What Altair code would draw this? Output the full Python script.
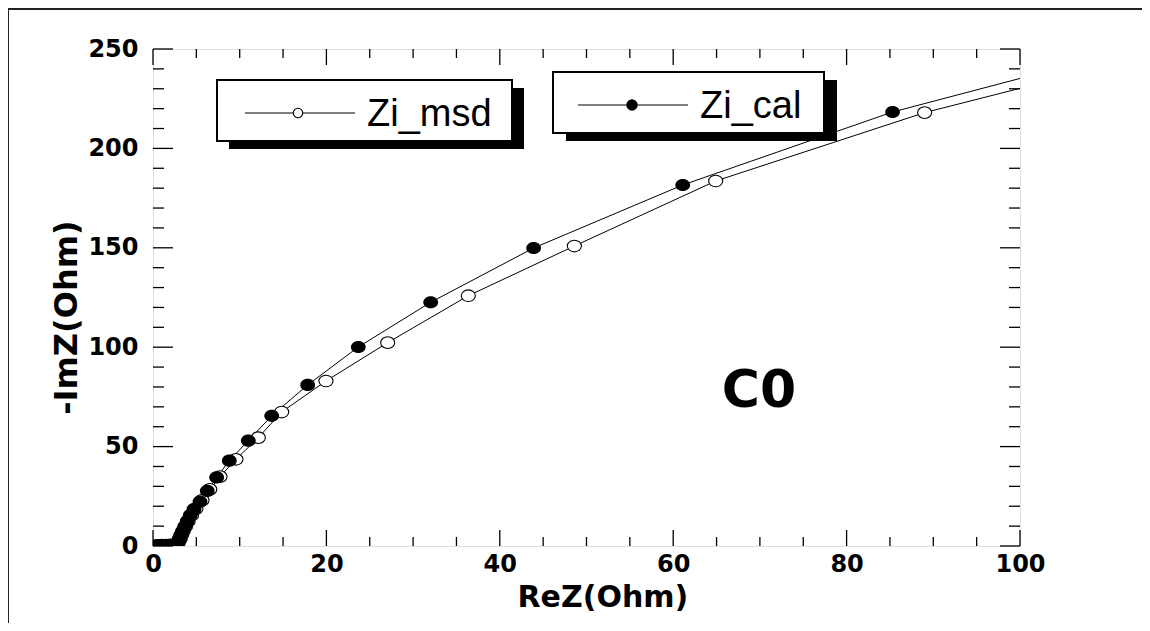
import altair as alt
import pandas as pd

# ---- data ----
cal_re = [0.25, 0.5, 0.9, 1.4, 1.9, 2.4, 2.7, 2.8, 2.9, 3.05, 3.2, 3.4, 3.65, 3.95, 4.3, 4.73,
          5.42, 6.26, 7.34, 8.8, 10.99, 13.69, 17.84, 23.68, 32.03, 43.9, 61.1, 85.3, 119.4]
cal_im = [0.1, 0.3, 0.4, 0.5, 0.55, 0.6, 0.9, 1.5, 2.5, 3.8, 5.5, 7.5, 9.8, 12.5, 15.5, 18.5,
          22.3, 27.7, 34.5, 42.9, 53.0, 65.5, 81.0, 100.1, 122.6, 149.9, 181.6, 218.3, 257.5]
msd_re = [0.3, 0.6, 1.0, 1.5, 2.0, 2.5, 2.8, 2.9, 3.0, 3.15, 3.3, 3.5, 3.75, 4.05, 4.45, 4.95,
          5.65, 6.55, 7.73, 9.57, 12.15, 14.84, 19.95, 27.07, 36.37, 48.6, 64.9, 89.0, 122.0]
msd_im = [0.1, 0.3, 0.4, 0.5, 0.5, 0.6, 0.9, 1.5, 2.5, 3.8, 5.5, 7.5, 9.8, 12.5, 15.5, 18.8,
          23.0, 28.5, 34.9, 43.6, 54.5, 67.4, 83.0, 102.3, 125.9, 150.9, 183.6, 218.0, 254.6]

x_major = [0, 20, 40, 60, 80, 100]
x_minor = [5, 10, 15, 25, 30, 35, 45, 50, 55, 65, 70, 75, 85, 90, 95]
y_major = [0, 50, 100, 150, 200, 250]
y_minor = [10, 20, 30, 40, 60, 70, 80, 90, 110, 120, 130, 140, 160, 170, 180, 190,
           210, 220, 230, 240]

annot_text = ["C0"]
annot_x = [69.9]
annot_y = [78]

W, H = 867, 497
FONT = "DejaVu Sans"
ELLIPSE = "M-1.15,0A1.15,0.95,0,1,0,1.15,0A1.15,0.95,0,1,0,-1.15,0Z"

df = pd.concat([
    pd.DataFrame({"re": cal_re, "im": cal_im, "series": "Zi_cal", "idx": range(len(cal_re))}),
    pd.DataFrame({"re": msd_re, "im": msd_im, "series": "Zi_msd", "idx": range(len(msd_re))}),
], ignore_index=True)

xscale = alt.Scale(domain=[0, 100], nice=False, zero=False)
yscale = alt.Scale(domain=[0, 250], nice=False, zero=False)

xaxis = alt.Axis(values=x_major, ticks=False, tickSize=0, domain=False, grid=False,
                 labelFont=FONT, labelFontWeight="bold", labelFontSize=24, labelColor="black",
                 labelPadding=6, labelFlush=False, labelOverlap=False,
                 title="ReZ(Ohm)", titleFont=FONT, titleFontWeight="bold", titleFontSize=30,
                 titleColor="black", titleX=364, titleY=60, titleBaseline="alphabetic",
                 titleAlign="left")
yaxis = alt.Axis(values=y_major, ticks=False, tickSize=0, domain=False, grid=False,
                 labelFont=FONT, labelFontWeight="bold", labelFontSize=24, labelColor="black",
                 labelPadding=15, labelFlush=False, labelOverlap=False,
                 title="-ImZ(Ohm)", titleFont=FONT, titleFontWeight="bold", titleFontSize=32,
                 titleColor="black", titleX=-77, titleY=268, titleAngle=270,
                 titleBaseline="alphabetic", titleAlign="center")

X = alt.X("re:Q", scale=xscale, axis=xaxis)
Y = alt.Y("im:Q", scale=yscale, axis=yaxis)

lines = alt.Chart(df).mark_line(color="black", strokeWidth=1, clip=True).encode(
    x=X, y=Y, detail="series:N", order="idx:Q")

pts_cal = alt.Chart(df).transform_filter(alt.datum.series == "Zi_cal").mark_point(
    shape=ELLIPSE, filled=True, color="black", size=165, opacity=1, clip=True).encode(x=X, y=Y)
pts_msd = alt.Chart(df).transform_filter(alt.datum.series == "Zi_msd").mark_point(
    shape=ELLIPSE, filled=False, color="black", size=150, strokeWidth=1.1, opacity=1,
    fill="white", clip=True).encode(x=X, y=Y)

# ---- inward ticks on all four sides ----
def xticks(vals, length):
    d = pd.DataFrame({"re": vals})
    b = alt.Chart(d).mark_rule(color="black", strokeWidth=1.3).encode(
        x=X, y=alt.value(H), y2=alt.value(H - length))
    t = alt.Chart(d).mark_rule(color="black", strokeWidth=1.3).encode(
        x=X, y=alt.value(0), y2=alt.value(length))
    return [b, t]

def yticks(vals, length):
    d = pd.DataFrame({"im": vals})
    l = alt.Chart(d).mark_rule(color="black", strokeWidth=1.3).encode(
        y=Y, x=alt.value(0), x2=alt.value(length))
    r = alt.Chart(d).mark_rule(color="black", strokeWidth=1.3).encode(
        y=Y, x=alt.value(W), x2=alt.value(W - length))
    return [l, r]

ticks = xticks(x_major, 16) + xticks(x_minor, 9) + yticks(y_major, 20) + yticks(y_minor, 11)

annot = alt.Chart(pd.DataFrame({"re": annot_x, "im": annot_y, "t": annot_text})).mark_text(
    font=FONT, fontWeight="bold", fontSize=52, color="black", align="center",
    baseline="middle").encode(x=X, y=Y, text="t:N")

one = pd.DataFrame({"k": [0]})

def rect(x, y, x2, y2, fill, stroke=None, sw=0):
    kw = dict(fill=fill, clip=False)
    if stroke:
        kw.update(stroke=stroke, strokeWidth=sw)
    return alt.Chart(one).mark_rect(**kw).encode(
        x=alt.value(x), y=alt.value(y), x2=alt.value(x2), y2=alt.value(y2))

def rule(x, y, x2=None, y2=None):
    enc = dict(x=alt.value(x), y=alt.value(y))
    if x2 is not None:
        enc["x2"] = alt.value(x2)
    if y2 is not None:
        enc["y2"] = alt.value(y2)
    return alt.Chart(one).mark_rule(color="#222", strokeWidth=2, clip=False).encode(**enc)

# outer border (only top and left edges are inside the picture)
border = [rule(-145, -40, x2=W + 140), rule(-145, -40, y2=H + 100)]

def legend_box(x0, y0, x1, y1, dx, dy, lx0, lx1, ly, mx, tx, ty, label, filled, msize):
    layers = [rect(x0 + dx, y0 + dy, x1 + dx, y1 + dy, "black"),
              rect(x0, y0, x1, y1, "white", "black", 2)]
    layers.append(alt.Chart(one).mark_rule(color="black", strokeWidth=1).encode(
        x=alt.value(lx0), x2=alt.value(lx1), y=alt.value(ly)))
    layers.append(alt.Chart(one).mark_point(shape="circle", filled=filled, color="black",
                                            fill="black" if filled else "white",
                                            size=msize, opacity=1, strokeWidth=1.1).encode(
        x=alt.value(mx), y=alt.value(ly)))
    layers.append(alt.Chart(one).mark_text(font="Liberation Sans", fontSize=38, color="black",
                                           align="left", baseline="alphabetic").encode(
        x=alt.value(tx), y=alt.value(ty), text=alt.value(label)))
    return layers

leg1 = legend_box(64, 31, 359, 92, 12, 8, 92, 202, 64, 145, 214, 77, "Zi_msd", False, 90)
leg2 = legend_box(400, 23, 671, 84, 13, 8, 425, 535, 56, 479, 547, 69, "Zi_cal", True, 130)

chart = alt.layer(*border, lines, pts_msd, pts_cal, *ticks, annot, *leg1, *leg2).properties(
    width=W, height=H,
    autosize=alt.AutoSizeParams(type="none"),
    padding={"left": 145, "top": 41, "right": 122, "bottom": 77},
).configure_view(stroke="black", strokeWidth=1.5).configure(background="white")

chart.save("out.html", embed_options={"renderer": "svg", "actions": False})
